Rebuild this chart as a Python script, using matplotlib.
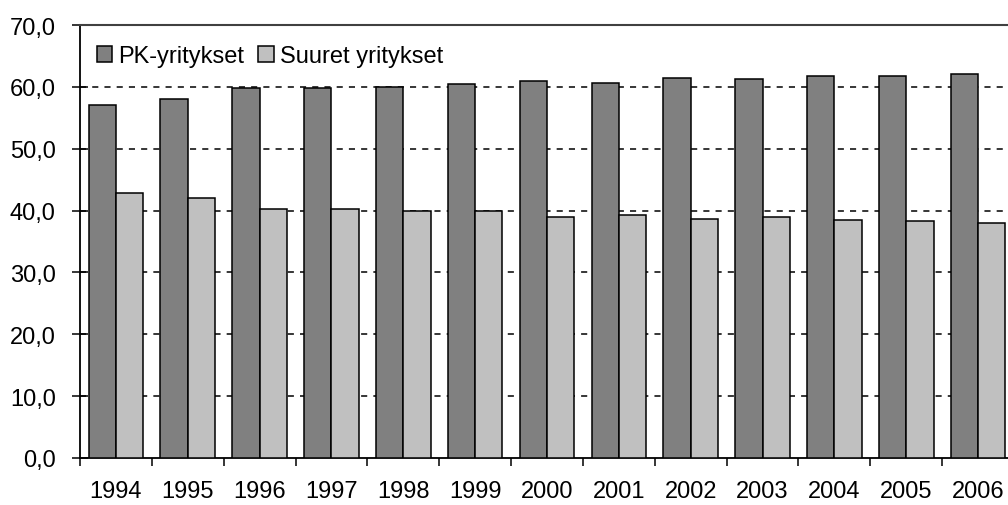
import numpy as np
import matplotlib.pyplot as plt
from matplotlib.ticker import FixedLocator, FuncFormatter

plt.rcParams['font.family'] = ['Liberation Sans', 'DejaVu Sans']

# Data
years = ["1994", "1995", "1996", "1997", "1998", "1999", "2000",
         "2001", "2002", "2003", "2004", "2005", "2006"]
pk_yritykset = [57.1, 58.0, 59.8, 59.8, 59.9, 60.4, 61.0,
                60.6, 61.5, 61.2, 61.7, 61.7, 62.0]
suuret_yritykset = [42.8, 42.1, 40.2, 40.2, 40.0, 39.9, 38.9,
                    39.3, 38.7, 39.0, 38.4, 38.3, 38.0]

fig = plt.figure(figsize=(10.08, 5.06), dpi=100)
# right edge lies beyond the figure, as in the cropped original
ax = fig.add_axes([80 / 1008, 47 / 506, 934 / 1008, 433 / 506])

x = np.arange(len(years))
w = 0.38
ax.bar(x - w / 2, pk_yritykset, width=w, color="#808080",
       edgecolor="black", linewidth=1.1, label="PK-yritykset", zorder=3)
ax.bar(x + w / 2, suuret_yritykset, width=w, color="#c0c0c0",
       edgecolor="black", linewidth=1.1, label="Suuret yritykset", zorder=3)

ax.set_xlim(-0.5, len(years) - 0.5)
ax.set_ylim(0, 70)

# y axis
ax.set_yticks(np.arange(0, 71, 10))
ax.yaxis.set_major_formatter(FuncFormatter(lambda v, p: f"{v:.1f}".replace(".", ",")))
ax.tick_params(axis="y", direction="inout", length=11, width=1.1,
               labelsize=17, pad=12)
for yv in range(10, 70, 10):
    ax.axhline(yv, color="black", linewidth=1.1, linestyle=(0, (4, 4)), zorder=1)

# x axis: labels at centres, ticks between categories
ax.set_xticks(x)
ax.set_xticklabels(years)
ax.tick_params(axis="x", which="major", length=0, labelsize=17, pad=16)
ax.xaxis.set_minor_locator(FixedLocator(np.arange(-0.5, len(years) - 0.5, 1)))
ax.tick_params(axis="x", which="minor", direction="out", length=6, width=1.1)

ax.spines["right"].set_visible(False)
ax.spines["left"].set_linewidth(1.3)
ax.spines["bottom"].set_linewidth(1.3)
ax.spines["top"].set_linewidth(1.5)
ax.spines["top"].set_color("#404040")

ax.legend(loc="upper left", bbox_to_anchor=(0.008, 0.975), frameon=False,
          fontsize=17, ncol=2, handlelength=0.65, handleheight=0.65,
          handletextpad=0.25, columnspacing=0.6, borderaxespad=0)

fig.savefig("out.png", dpi=100)
